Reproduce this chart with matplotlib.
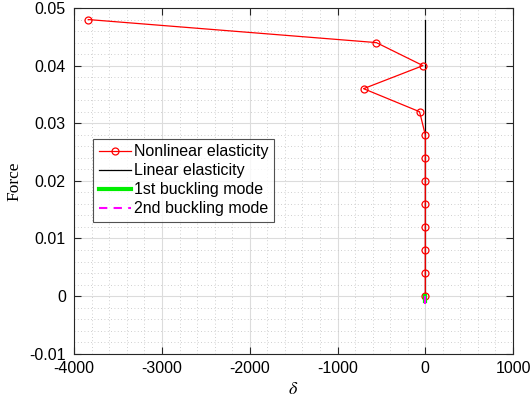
import matplotlib
matplotlib.use("Agg")
import matplotlib.pyplot as plt
from matplotlib.ticker import MultipleLocator, FuncFormatter

plt.rcParams['font.family'] = ['Liberation Sans', 'DejaVu Sans']
plt.rcParams['mathtext.fontset'] = 'stix'
plt.rcParams['axes.unicode_minus'] = False

# load steps of the nonlinear solution
force_nl = [0.048, 0.044, 0.040, 0.036, 0.032, 0.028, 0.024, 0.020,
            0.016, 0.012, 0.008, 0.004, 0.0]
delta_nl = [-3840, -558, -26, -703, -65, 0, 0, 0, 0, 0, 0, 0, 0]

# linear elastic response
force_lin = [0.0, 0.048]
delta_lin = [0, 0]

# buckling modes (tiny near the origin)
force_b1 = [0.0, -0.0008]
delta_b1 = [0, 0]
force_b2 = [0.0, -0.0013]
delta_b2 = [0, 0]

fig, ax = plt.subplots(figsize=(5.3, 4.01), dpi=100)
fig.subplots_adjust(left=0.14, right=0.968, top=0.98, bottom=0.118)

ax.plot(delta_nl, force_nl, color='red', lw=0.9, marker='o', ms=5,
        mfc='none', mec='red', mew=0.9, label='Nonlinear elasticity', zorder=4)
ax.plot(delta_lin, force_lin, color='black', lw=0.9, label='Linear elasticity', zorder=3)
ax.plot(delta_b1, force_b1, color='#00ee00', lw=3, label='1st buckling mode', zorder=5)
ax.plot(delta_b2, force_b2, color='magenta', lw=1.5, ls=(0, (4, 3)), label='2nd buckling mode', zorder=6)

ax.set_xlim(-4000, 1000)
ax.set_ylim(-0.01, 0.05)
ax.xaxis.set_major_locator(MultipleLocator(1000))
ax.xaxis.set_minor_locator(MultipleLocator(200))
ax.yaxis.set_major_locator(MultipleLocator(0.01))
ax.yaxis.set_minor_locator(MultipleLocator(0.002))
ax.xaxis.set_major_formatter(FuncFormatter(lambda v, p: f'{v:.0f}'))
ax.yaxis.set_major_formatter(FuncFormatter(lambda v, p: f'{round(v, 4):g}'))

ax.grid(which='major', color='#dcdcdc', lw=0.8)
ax.grid(which='minor', color='#c0c0c0', lw=0.6, ls=(0, (1, 3)))
ax.set_axisbelow(True)
ax.tick_params(which='both', direction='in', top=True, right=True, labelsize=11.5, color='#262626')
ax.tick_params(which='minor', length=0)
ax.tick_params(which='major', length=5)
ax.tick_params(axis='x', pad=5)
ax.tick_params(axis='y', pad=6)
for s in ax.spines.values():
    s.set_color('#262626')
    s.set_linewidth(0.8)

ax.set_xlabel(r'$\delta$', fontsize=13, labelpad=4)
ax.set_ylabel('Force', fontsize=12.5, family='Liberation Serif', labelpad=5)

leg = ax.legend(loc='upper left', bbox_to_anchor=(0.043, 0.622), fontsize=11.5,
                frameon=True, fancybox=False, edgecolor='#262626',
                borderpad=0.35, labelspacing=0.25, handlelength=2.0, handletextpad=0.2,
                borderaxespad=0)
leg.get_frame().set_linewidth(0.8)

fig.savefig('out.png', dpi=100)
